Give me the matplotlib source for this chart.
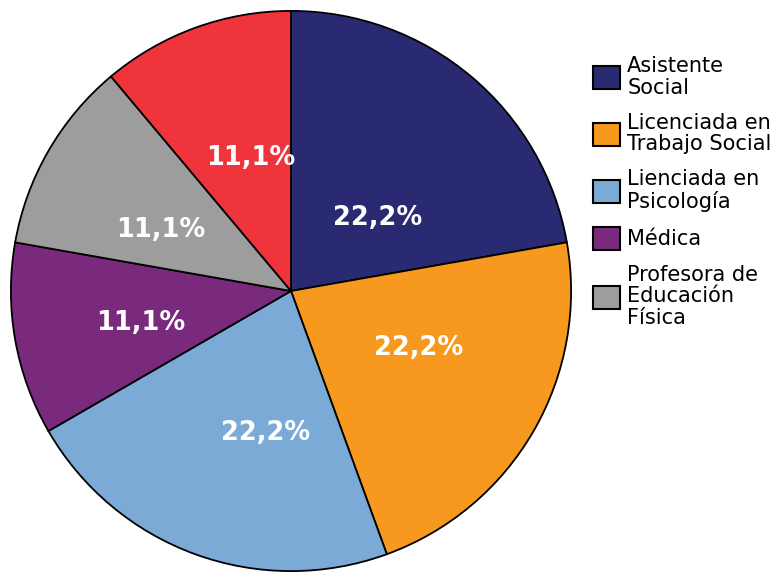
import matplotlib
matplotlib.use("Agg")
import matplotlib.pyplot as plt
from matplotlib.patches import Rectangle

categories = ["Asistente\nSocial", "Licenciada en\nTrabajo Social", "Lienciada en\nPsicología",
              "Médica", "Profesora de\nEducación\nFísica", ""]
values = [2, 2, 2, 1, 1, 1]
pct_labels = ["22,2%", "22,2%", "22,2%", "11,1%", "11,1%", "11,1%"]
colors = ["#2A2A72", "#F7991E", "#7BAAD6", "#7A2A7C", "#9D9D9D", "#F0343B"]
# label anchor points inside each wedge (pie radius = 1)
label_xy = [(0.308, 0.270), (0.457, -0.192), (-0.089, -0.495),
            (-0.537, -0.103), (-0.466, 0.228), (-0.144, 0.484)]

plt.rcParams['font.family'] = ['DejaVu Sans']
fig = plt.figure(figsize=(7.8, 5.73), dpi=100)
W, H = 780, 573
cx, cy, r = 291, 291, 281.5
ax = fig.add_axes([(cx - r) / W, (H - cy - r) / H, 2 * r / W, 2 * r / H])
wedges, _ = ax.pie(values, colors=colors, startangle=90, counterclock=False, radius=1,
                   wedgeprops=dict(edgecolor="black", linewidth=1.3))
ax.set_xlim(-1.005, 1.005)
ax.set_ylim(-1.005, 1.005)
ax.set_aspect('equal')
ax.axis('off')

for (x, y), lab in zip(label_xy, pct_labels):
    ax.text(x, y, lab, color="white", fontsize=18.5,
            fontweight="bold", ha="center", va="center_baseline")

handles = [Rectangle((0, 0), 1, 1, facecolor=c, edgecolor="black", linewidth=1.5)
           for c in colors[:5]]
leg = fig.legend(handles, categories[:5], loc="upper left", bbox_to_anchor=(593 / W, 1 - 56 / H),
                 frameon=False, fontsize=15, handlelength=1.3, handleheight=1.3,
                 handletextpad=0.34, labelspacing=0.72, borderaxespad=0, borderpad=0)
for t in leg.get_texts():
    t.set_linespacing(1.1)

fig.savefig("out.png", dpi=100)
